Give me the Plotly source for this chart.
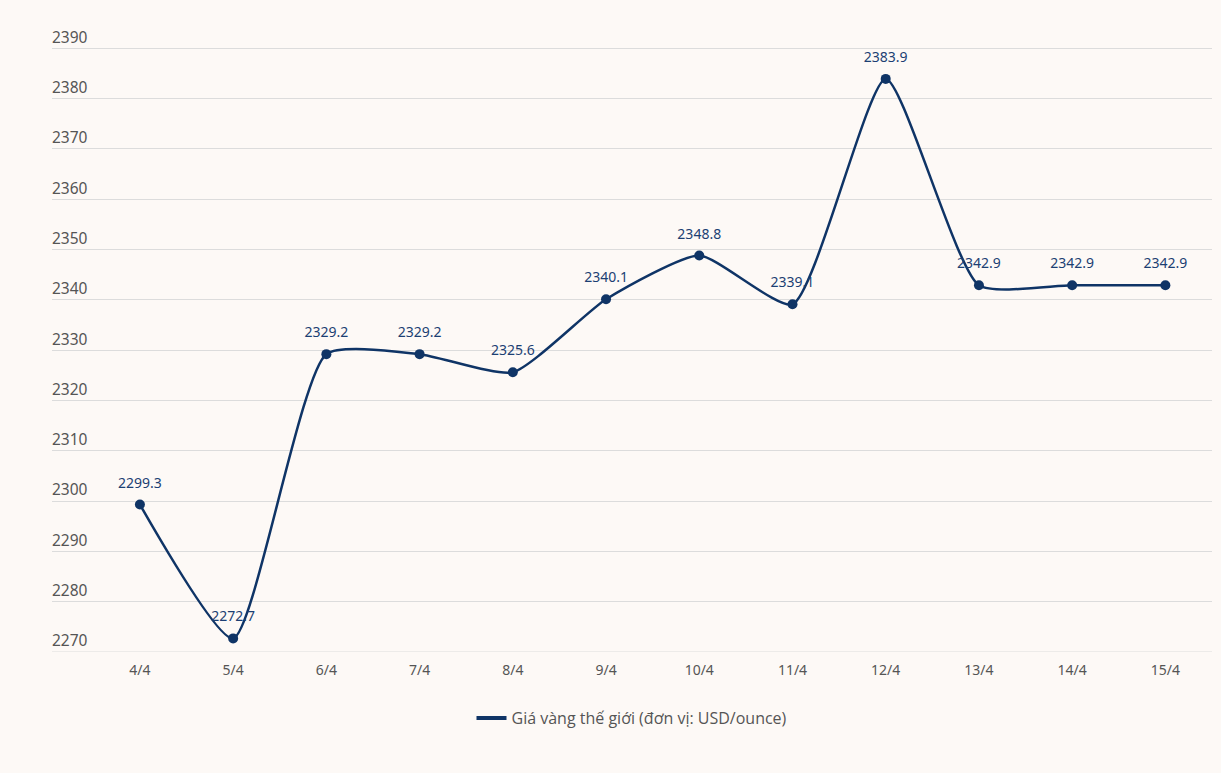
import plotly.graph_objects as go

dates = ["4/4", "5/4", "6/4", "7/4", "8/4", "9/4", "10/4", "11/4", "12/4", "13/4", "14/4", "15/4"]
prices = [2299.3, 2272.7, 2329.2, 2329.2, 2325.6, 2340.1, 2348.8, 2339.1, 2383.9, 2342.9, 2342.9, 2342.9]
y_ticks = [2270, 2280, 2290, 2300, 2310, 2320, 2330, 2340, 2350, 2360, 2370, 2380, 2390]
series_name = "Giá vàng thế giới (đơn vị: USD/ounce)"

line_color = "#0f3466"
bg = "#fdf9f6"
xs = list(range(len(dates)))

fig = go.Figure()
fig.add_trace(go.Scatter(
    x=xs, y=prices, name=series_name, showlegend=False,
    mode="lines+markers",
    line=dict(color=line_color, width=2.5, shape="spline", smoothing=0.55),
    marker=dict(color=line_color, size=10),
    cliponaxis=False, hoverinfo="skip",
))
# data labels
fig.add_trace(go.Scatter(
    x=xs, y=prices, showlegend=False, mode="markers+text",
    marker=dict(color="rgba(0,0,0,0)", size=20),
    text=[f"{v:.1f}" for v in prices],
    textposition="top center",
    textfont=dict(family="Noto Sans", size=14, color="#1c3f73"),
    cliponaxis=False,
))
# legend entry
fig.add_trace(go.Scatter(
    x=[None], y=[None], name=series_name, mode="lines",
    line=dict(color=line_color, width=4),
))

fig.update_layout(
    width=1221, height=773,
    paper_bgcolor=bg, plot_bgcolor=bg,
    margin=dict(l=52, r=9, t=13, b=121),
    font=dict(family="Noto Sans", color="#555555"),
    showlegend=True,
    legend=dict(orientation="h", x=0.5, xanchor="center", y=-0.077, yanchor="top",
                font=dict(family="Open Sans", size=16, color="#555555")),
    xaxis=dict(
        tickmode="array", tickvals=xs, ticktext=dates,
        range=[-0.943, 11.5], showgrid=False, zeroline=False, showline=False,
        tickfont=dict(size=14, color="#555555"), ticks="", ticklabelstandoff=8,
    ),
    yaxis=dict(
        tickmode="array", tickvals=y_ticks, range=[2270, 2397],
        showgrid=True, gridcolor="#dcdcdc", gridwidth=1, zeroline=False,
        showline=False, ticks="",
        ticklabelposition="inside", ticklabelshift=-11, ticklabelstandoff=-3,
        tickfont=dict(size=15.5, color="#555555"),
    ),
)
fig.add_shape(type="line", xref="paper", yref="y", x0=0, x1=1, y0=2270, y1=2270,
              line=dict(color="#dcdcdc", width=1), layer="below")

fig.write_html("out.html", config={"displayModeBar": False}, post_script=(
    "document.body.style.margin='0';"
    "document.body.style.background='" + bg + "';"
))
